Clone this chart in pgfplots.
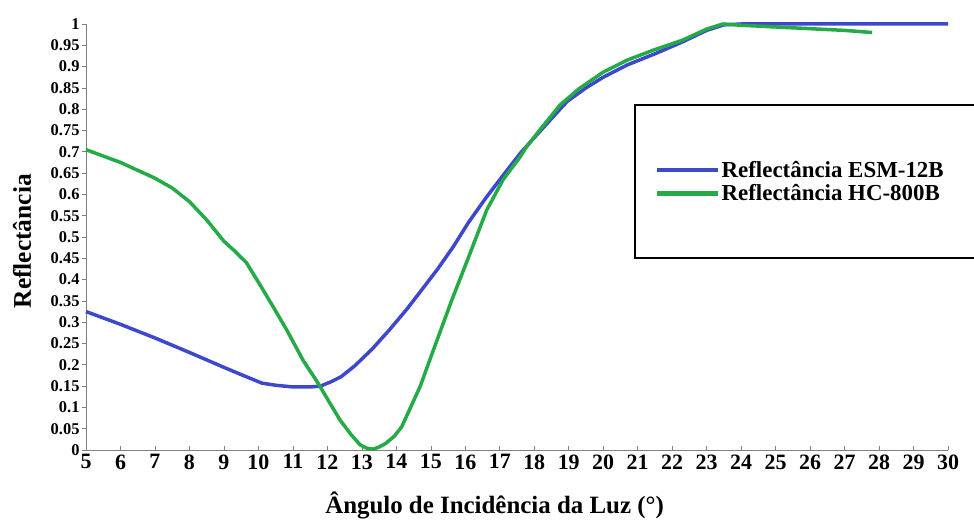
\documentclass[border=0pt]{standalone}
\usepackage{fontspec}
\setmainfont{Liberation Serif}
\usepackage{pgfplots}
\pgfplotsset{compat=1.18}
\definecolor{cblue}{RGB}{62,72,204}
\definecolor{cgreen}{RGB}{36,170,70}
\begin{document}
\begin{tikzpicture}
\begin{axis}[
  scale only axis, width=862bp, height=426bp,
  xmin=5, xmax=30, ymin=0, ymax=1,
  axis lines=left,
  axis line style={-, draw=gray, line width=0.8bp},
  tick style={draw=gray, line width=0.6bp},
  major tick length=4bp,
  xtick align=inside, ytick align=outside,
  xtick={5,6,7,8,9,10,11,12,13,14,15,16,17,18,19,20,21,22,23,24,25,26,27,28,29,30},
  ytick={0,0.05,0.1,0.15,0.2,0.25,0.3,0.35,0.4,0.45,0.5,0.55,0.6,0.65,0.7,0.75,0.8,0.85,0.9,0.95,1},
  yticklabels={0,0.05,0.1,0.15,0.2,0.25,0.3,0.35,0.4,0.45,0.5,0.55,0.6,0.65,0.7,0.75,0.8,0.85,0.9,0.95,1},
  /pgf/number format/assume math mode=true,
  xticklabel style={font=\fontsize{22}{24}\selectfont\bfseries, yshift=-1bp},
  yticklabel style={font=\fontsize{16.5}{18}\selectfont\bfseries, xshift=1bp},
  xlabel={Ângulo de Incidência da Luz (°)},
  ylabel={Reflectância},
  xlabel style={font=\fontsize{25}{28}\selectfont\bfseries, at={(axis description cs:0.474,-0.129)}, anchor=center},
  ylabel style={font=\fontsize{25.5}{28}\selectfont\bfseries, at={(axis description cs:-0.0742,0.49)}, anchor=center},
  clip=false,
  legend style={at={(axis description cs:0.660,0.630)}, anchor=west, draw=none, fill=none,
    inner sep=0pt, row sep=4bp, font=\fontsize{23}{26}\selectfont\bfseries,
    nodes={inner sep=1bp}},
  legend cell align=left,
  legend image code/.code={\draw[#1, line width=4.5bp] (0bp,0bp) -- (61bp,0bp);},
]
\addplot[cblue, line width=3.5bp, line join=round] coordinates {
(5,0.325) (6,0.295) (7,0.263) (8,0.229) (9,0.194) (9.5,0.177) (10.1,0.157)
(10.5,0.152) (11,0.148) (11.5,0.148) (11.8,0.15) (12.1,0.16) (12.4,0.172)
(12.8,0.198) (13.3,0.237) (13.8,0.282) (14.3,0.33) (14.7,0.372) (15.2,0.425)
(15.65,0.477) (16.1,0.535) (16.6,0.592) (17.1,0.645) (17.6,0.697) (18.3,0.76)
(18.95,0.818) (19.5,0.85) (20,0.875) (20.7,0.904) (21.5,0.93) (22.3,0.958)
(23,0.985) (23.5,0.998) (24,1.0) (25,1.0) (27,1.0) (30,1.0)
};
\addlegendentry{Reflectância ESM-12B}
\addplot[cgreen, line width=3.5bp, line join=round] coordinates {
(5,0.705) (6,0.675) (7,0.638) (7.5,0.615) (8,0.583) (8.5,0.54) (9,0.49)
(9.3,0.468) (9.65,0.44) (10,0.394) (10.4,0.34) (10.82,0.282) (11.3,0.21)
(11.73,0.157) (12,0.12) (12.37,0.07) (12.7,0.035) (12.95,0.012) (13.15,0.004)
(13.33,0.002) (13.5,0.007) (13.7,0.016) (13.95,0.033) (14.16,0.055)
(14.69,0.149) (15.1,0.24) (15.6,0.35) (16.14,0.462) (16.62,0.563) (17.1,0.635)
(17.59,0.688) (17.78,0.712) (18.2,0.755) (18.75,0.81) (19.3,0.848) (20,0.887)
(20.69,0.915) (21.5,0.94) (22.3,0.962) (23,0.988) (23.47,1.0) (24,0.997)
(25,0.993) (26,0.989) (27,0.985) (27.8,0.98)
};
\addlegendentry{Reflectância HC-800B}
\draw[line width=1.6bp] (rel axis cs:0.637,0.81) rectangle (rel axis cs:1.1,0.451);
\end{axis}
\pgfresetboundingbox
\path[use as bounding box] ([xshift=-86bp,yshift=-71bp]current axis.south west) rectangle ([xshift=26bp,yshift=24bp]current axis.north east);
\end{tikzpicture}
\end{document}
